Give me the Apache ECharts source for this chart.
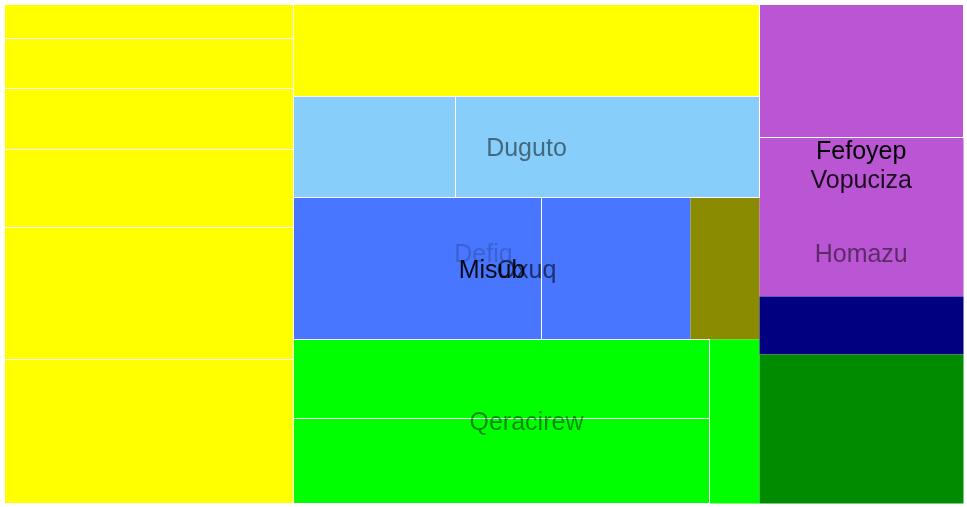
<!DOCTYPE html>
<html>
<head>
<meta charset="utf-8">
<script src="https://cdn.jsdelivr.net/npm/echarts@6/dist/echarts.min.js"></script>
<style>
html,body{margin:0;padding:0;background:#ffffff;}
#chart{width:967px;height:507px;}
</style>
</head>
<body>
<div id="chart"></div>
<script>
// ---------------- data (hierarchy as flat lists; children keep list order) ----------------
const nodeNames  = ['Defiq', '', '', '', '', '', '', '', '', '', 'Duguto', '', '', 'Oxuq', 'Misub', '', '', '', 'Qeracirew', '', '', '', '', 'Homazu', 'Vopuciza', 'Fefoyep', '', '', '', ''];
const nodeParent = [-1, 0, 1, 1, 1, 1, 1, 1, 0, 8, 8, 10, 10, 8, 13, 14, 14, 13, 8, 18, 19, 19, 18, 0, 23, 24, 25, 25, 24, 23];
const nodeValue  = [null, null, 99, 145, 177, 226, 382, 416, null, 431, null, 164, 309, null, null, 352, 212, 98, null, null, 326, 352, 82, null, null, null, 271, 324, 118, 303];

// ---------------- styles / tiling ----------------
const leafFill = {
  2: '#ffff00', 3: '#ffff00', 4: '#ffff00', 5: '#ffff00', 6: '#ffff00', 7: '#ffff00',
  9: '#ffff00', 11: '#87cefa', 12: '#87cefa', 15: '#4876ff', 16: '#4876ff', 17: '#8b8b00',
  20: '#00ff00', 21: '#00ff00', 22: '#00ff00', 26: '#ba55d3', 27: '#ba55d3', 28: '#000080', 29: '#008b00'
};
const outlined = [2, 3, 4, 5, 6, 7, 9, 11, 12, 15, 20, 21, 26];
const splitDir = {0: 'cols', 1: 'rows', 8: 'rows', 10: 'cols', 13: 'cols', 14: 'cols', 18: 'cols', 19: 'rows', 23: 'rows', 24: 'rows', 25: 'rows'};
const labelAlpha = {0: 0.18, 10: 0.5, 13: 0.6, 14: 0.92, 18: 0.45, 23: 0.5, 24: 0.85, 25: 1};

// ---------------- tiling from values ----------------
const children = nodeNames.map(() => []);
nodeParent.forEach((p, i) => { if (p >= 0) children[p].push(i); });
function total(i) {
  if (nodeValue[i] != null) return nodeValue[i];
  return children[i].reduce((s, c) => s + total(c), 0);
}
const rects = [];
function tile(i, x0, y0, x1, y1) {
  rects[i] = [x0, y0, x1, y1];
  const ch = children[i];
  if (!ch.length) return;
  const tot = total(i);
  const cols = splitDir[i] === 'cols';
  let p = cols ? x0 : y0;
  ch.forEach(c => {
    const f = total(c) / tot;
    if (cols) { const w = (x1 - x0) * f; tile(c, p, y0, p + w, y1); p += w; }
    else { const h = (y1 - y0) * f; tile(c, x0, p, x1, p + h); p += h; }
  });
}
tile(0, 0, 0, 1, 1);

const leafIdx = nodeNames.map((n, i) => i).filter(i => children[i].length === 0);
const labelIdx = nodeNames.map((n, i) => i).filter(i => children[i].length > 0 && nodeNames[i] !== '');
const centre = i => [(rects[i][0] + rects[i][2]) / 2, (rects[i][1] + rects[i][3]) / 2, i];
const snap = v => Math.round(v - 0.5) + 0.5;

function cellShape(api, i) {
  const r = rects[i];
  const a = api.coord([r[0], r[1]]);
  const b = api.coord([r[2], r[3]]);
  const x0 = snap(a[0]), y0 = snap(a[1]), x1 = snap(b[0]), y1 = snap(b[1]);
  return {x: x0, y: y0, width: x1 - x0, height: y1 - y0};
}

const chart = echarts.init(document.getElementById('chart'), null, {renderer: 'canvas'});
chart.setOption({
  animation: false,
  backgroundColor: '#ffffff',
  grid: {left: 4, right: 4, top: 4, bottom: 4},
  xAxis: {type: 'value', min: 0, max: 1, show: false},
  yAxis: {type: 'value', min: 0, max: 1, inverse: true, show: false},
  series: [
    {
      type: 'custom',
      coordinateSystem: 'cartesian2d',
      encode: {x: 0, y: 1},
      clip: false,
      z: 2,
      data: leafIdx.map(centre),
      renderItem: function (params, api) {
        const i = api.value(2);
        return {type: 'rect', shape: cellShape(api, i), style: {fill: leafFill[i]}};
      }
    },
    {
      type: 'custom',
      coordinateSystem: 'cartesian2d',
      encode: {x: 0, y: 1},
      clip: false,
      z: 3,
      data: outlined.map(centre),
      renderItem: function (params, api) {
        const i = api.value(2);
        return {type: 'rect', shape: cellShape(api, i), style: {fill: null, stroke: '#ffffff', lineWidth: 1}};
      }
    },
    {
      type: 'custom',
      coordinateSystem: 'cartesian2d',
      encode: {x: 0, y: 1},
      clip: false,
      z: 5,
      data: labelIdx.map(centre),
      renderItem: function (params, api) {
        const i = api.value(2);
        const p = api.coord([api.value(0), api.value(1)]);
        return {
          type: 'text',
          x: p[0],
          y: p[1] + 2,
          style: {
            text: nodeNames[i],
            fill: 'rgba(0,0,0,' + labelAlpha[i] + ')',
            font: '25px "Liberation Sans", Arial, sans-serif',
            align: 'center',
            verticalAlign: 'middle'
          }
        };
      }
    }
  ]
});
</script>
</body>
</html>
